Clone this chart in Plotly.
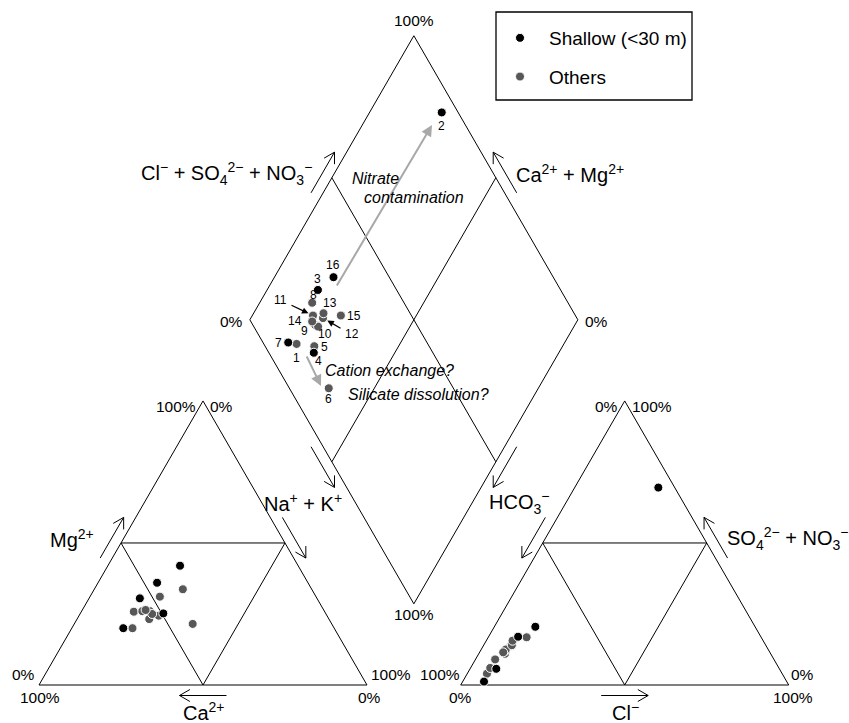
import math
import plotly.graph_objects as go

# ---------------- data ----------------
sample_ids = [str(i) for i in range(1, 17)]
is_shallow = [False, True, True, True, False, False, True, False,
              False, False, False, False, False, False, False, True]
# cations, % meq
ca_pct  = [61.5, 36.0, 54.0, 49.5, 51.3, 42.4, 64.3, 58.2, 53.2, 54.8, 55.5, 53.0, 47.6, 54.3, 39.3, 46.0]
mg_pct  = [20.0, 42.0, 30.5, 25.2, 24.4, 21.5, 20.0, 25.8, 26.0, 23.2, 26.0, 25.0, 31.1, 26.4, 33.7, 36.0]
nak_pct = [18.5, 22.0, 15.5, 25.3, 24.3, 36.1, 15.7, 16.0, 20.8, 22.0, 18.5, 22.0, 21.3, 19.3, 27.0, 18.0]
# anions, % meq
hco3_pct   = [90.0, 5.0, 74.0, 86.3, 85.0, 88.0, 92.3, 78.0, 81.0, 80.4, 80.0, 77.4, 76.4, 81.3, 71.5, 67.0]
cl_pct     = [6.0, 25.5, 9.0, 8.0, 6.0, 6.0, 6.5, 8.3, 8.0, 7.6, 7.5, 8.6, 8.0, 7.2, 11.7, 12.5]
so4no3_pct = [4.0, 69.5, 17.0, 5.7, 9.0, 6.0, 1.2, 13.7, 11.0, 12.0, 12.5, 14.0, 15.6, 11.5, 16.8, 20.5]

group_names = ["Shallow (<30 m)", "Others"]

# ---------------- geometry / style ----------------
FONT = "Liberation Sans, Arial, sans-serif"
W, HGT = 849, 723
SC = 328.0            # pixels per triangle side
PX0, PY0 = 39.0, 685.0
H = math.sqrt(3) / 2
GAP = 0.2857
OX = 1 + GAP
DB = (1 + GAP / 2, GAP / 2 * math.sqrt(3))
DL = (DB[0] - 0.5, DB[1] + H)
DR = (DB[0] + 0.5, DB[1] + H)
DT = (DB[0], DB[1] + 2 * H)
LA, LB, LC = (0.0, 0.0), (1.0, 0.0), (0.5, H)
RA, RB, RC = (OX, 0.0), (OX + 1, 0.0), (OX + 0.5, H)


def px(x, y):
    return ((x - PX0) / SC, (PY0 - y) / SC)


def mid(p, q, t=0.5):
    return (p[0] + (q[0] - p[0]) * t, p[1] + (q[1] - p[1]) * t)


def tri_point(left, right, top, ox):
    s = left + right + top
    r, t = right / s, top / s
    return ox + r + t / 2, t * H


def diamond_point(camg, clso4):
    a, c = camg, clso4
    return DB[0] + (c - a) / 2, DB[1] + (a + c) * H


# positions of all samples
cat_xy, an_xy, dia_xy = [], [], []
for i in range(len(sample_ids)):
    cat_xy.append(tri_point(ca_pct[i], nak_pct[i], mg_pct[i], 0.0))
    an_xy.append(tri_point(hco3_pct[i], cl_pct[i], so4no3_pct[i], OX))
    sc = ca_pct[i] + mg_pct[i] + nak_pct[i]
    sa = hco3_pct[i] + cl_pct[i] + so4no3_pct[i]
    dia_xy.append(diamond_point((ca_pct[i] + mg_pct[i]) / sc, (cl_pct[i] + so4no3_pct[i]) / sa))

# ---------------- frame lines ----------------
lx, ly = [], []


def seg(p, q):
    lx.extend([p[0], q[0], None])
    ly.extend([p[1], q[1], None])


for A, B, C in [(LA, LB, LC), (RA, RB, RC)]:
    seg(A, B); seg(B, C); seg(C, A)
    mAC, mBC, mAB = mid(A, C), mid(B, C), mid(A, B)
    seg(mAC, mBC); seg(mAC, mAB); seg(mBC, mAB)
seg(DB, DL); seg(DL, DT); seg(DT, DR); seg(DR, DB)
seg(mid(DB, DL), mid(DR, DT))
seg(mid(DB, DR), mid(DL, DT))

# open arrows parallel to edges
HEAD = 12 / SC
HALF = 0.0716
OFF = 10.5 / SC


def open_arrow(p0, p1):
    dx, dy = p1[0] - p0[0], p1[1] - p0[1]
    L = math.hypot(dx, dy)
    ux, uy = dx / L, dy / L
    seg(p0, p1)
    for ang in (math.radians(30), -math.radians(30)):
        bx = ux * math.cos(ang) - uy * math.sin(ang)
        by = ux * math.sin(ang) + uy * math.cos(ang)
        seg(p1, (p1[0] - HEAD * bx, p1[1] - HEAD * by))


def edge_arrow(e0, e1, outward):
    dx, dy = e1[0] - e0[0], e1[1] - e0[1]
    L = math.hypot(dx, dy)
    ux, uy = dx / L, dy / L
    nx, ny = -uy, ux
    if nx * outward[0] + ny * outward[1] < 0:
        nx, ny = -nx, -ny
    c = mid(e0, e1)
    p0 = (c[0] - ux * HALF * L + nx * OFF, c[1] - uy * HALF * L + ny * OFF)
    p1 = (c[0] + ux * HALF * L + nx * OFF, c[1] + uy * HALF * L + ny * OFF)
    open_arrow(p0, p1)


edge_arrow(LA, LC, (-1, 1))      # Mg
edge_arrow(LB, LA, (0, -1))      # Ca
edge_arrow(LC, LB, (1, 1))       # Na+K (triangle)
edge_arrow(DL, DB, (-1, -1))     # Na+K (diamond)
edge_arrow(DR, DB, (1, -1))      # HCO3 (diamond)
edge_arrow(RC, RA, (-1, 1))      # HCO3 (triangle)
edge_arrow(RB, RC, (1, 1))       # SO4+NO3
edge_arrow(RA, RB, (0, -1))      # Cl
edge_arrow(DL, DT, (-1, 1))      # Cl+SO4+NO3
edge_arrow(DR, DT, (1, 1))       # Ca+Mg

fig = go.Figure()
fig.add_trace(go.Scatter(x=lx, y=ly, mode="lines", line=dict(color="black", width=1),
                         hoverinfo="skip", showlegend=False))

# ---------------- points ----------------
colors = {True: "#000000", False: "#575757"}
for shallow, name, rank in [(False, group_names[1], 2), (True, group_names[0], 1)]:
    xs, ys = [], []
    for i in range(len(sample_ids)):
        if is_shallow[i] == shallow:
            for p in (cat_xy[i], an_xy[i], dia_xy[i]):
                xs.append(p[0]); ys.append(p[1])
    fig.add_trace(go.Scatter(
        x=xs, y=ys, mode="markers", name=name, legendrank=rank,
        legendgroup=name,
        marker=dict(color=colors[shallow], size=9, line=dict(color="white", width=1)),
        hoverinfo="skip"))

ann = []


def text(x, y, s, size, xa="center", ya="middle", xs=0, ys=0):
    ann.append(dict(x=x, y=y, text=s, showarrow=False, xanchor=xa, yanchor=ya,
                    xshift=xs, yshift=ys, font=dict(family=FONT, size=size, color="black")))


# sample labels (pixel offsets from their diamond points)
label_off = {"1": (0, -14), "2": (0, -14), "3": (0, 11), "4": (5, -8), "5": (10, -1),
             "6": (0, -11), "7": (-10, 0), "8": (1, 8), "9": (-11, -6), "10": (7, -7),
             "11": (-32, 16), "12": (29, -16), "13": (7, 10), "14": (-17, 0),
             "15": (13, 0), "16": (0, 12)}
for i, sid in enumerate(sample_ids):
    dx, dy = label_off[sid]
    text(dia_xy[i][0], dia_xy[i][1], sid, 12, xs=dx, ys=dy)

# small black pointer arrows for 11 and 12
for sid, tail in [("11", (-23, -11)), ("12", (19, 11))]:
    i = sample_ids.index(sid)
    ann.append(dict(x=dia_xy[i][0], y=dia_xy[i][1], ax=tail[0], ay=tail[1], text="",
                    showarrow=True, arrowhead=2, arrowsize=1, arrowwidth=1.3,
                    arrowcolor="black", standoff=5))

# grey process arrows
for (x0, y0), (x1, y1) in [((336, 287), (432, 125)), ((306, 355), (321, 386))]:
    a0, a1 = px(x0, y0), px(x1, y1)
    ann.append(dict(x=a1[0], y=a1[1], ax=a0[0], ay=a0[1], axref="x", ayref="y",
                    xref="x", yref="y", text="", showarrow=True, arrowhead=2,
                    arrowsize=1.1, arrowwidth=2, arrowcolor="#a8a8a8"))

# italic notes
for (x, y), s in [((350, 178), "Nitrate"), ((362, 197), "contamination"),
                  ((323, 370), "Cation exchange?"), ((346, 394), "Silicate dissolution?")]:
    p = px(x, y)
    text(p[0], p[1], "<i>%s</i>" % s, 16, xa="left")

# percent labels at corners
PF = 15.5
text(*LA, "0%", PF, xa="right", xs=-2, ys=11)
text(*LA, "100%", PF, xs=1, ys=-12)
text(*LB, "100%", PF, xa="left", xs=2, ys=11)
text(*LB, "0%", PF, xs=2, ys=-12)
text(*LC, "100%", PF, xa="right", xs=-5, ys=-6)
text(*LC, "0%", PF, xa="left", xs=5, ys=-6)
text(*RA, "100%", PF, xa="right", xs=1, ys=11)
text(*RA, "0%", PF, xs=0, ys=-12)
text(*RB, "0%", PF, xa="left", xs=0, ys=11)
text(*RB, "100%", PF, xs=4, ys=-12)
text(*RC, "0%", PF, xa="right", xs=-5, ys=-6)
text(*RC, "100%", PF, xa="left", xs=5, ys=-6)
text(*DT, "100%", PF, ys=15)
text(*DL, "0%", PF, xa="right", xs=-5, ys=-2)
text(*DR, "0%", PF, xa="left", xs=5, ys=-2)
text(*DB, "100%", PF, ys=-11)

# axis names
AF = 20
for (x, y), s, xa in [
    ((96, 538), "Mg<sup>2+</sup>", "right"),
    ((204, 711), "Ca<sup>2+</sup>", "center"),
    ((303, 502), "Na<sup>+</sup> + K<sup>+</sup>", "center"),
    ((519, 502), "HCO<sub>3</sub><sup>−</sup>", "center"),
    ((725, 538), "SO<sub>4</sub><sup>2−</sup> + NO<sub>3</sub><sup>−</sup>", "left"),
    ((625, 711), "Cl<sup>−</sup>", "center"),
    ((314, 173), "Cl<sup>−</sup> + SO<sub>4</sub><sup>2−</sup> + NO<sub>3</sub><sup>−</sup>", "right"),
    ((514, 173), "Ca<sup>2+</sup> + Mg<sup>2+</sup>", "left"),
]:
    p = px(x, y)
    text(p[0], p[1], s, AF, xa=xa)

fig.update_layout(
    width=W, height=HGT, margin=dict(l=0, r=0, t=0, b=0, pad=0),
    paper_bgcolor="white", plot_bgcolor="white",
    annotations=ann,
    shapes=[dict(type="rect", xref="paper", yref="paper",
                 x0=496 / W, x1=692 / W, y0=1 - 100 / HGT, y1=1 - 12 / HGT,
                 line=dict(color="black", width=1.3), fillcolor="rgba(0,0,0,0)")],
    legend=dict(x=491 / W, y=1 - 19 / HGT, xanchor="left", yanchor="top",
                bgcolor="rgba(0,0,0,0)", borderwidth=0, itemwidth=48,
                tracegroupgap=11, font=dict(family=FONT, size=19, color="black")),
    xaxis=dict(visible=False, range=[-PX0 / SC, (W - PX0) / SC], fixedrange=True),
    yaxis=dict(visible=False, range=[-(HGT - PY0) / SC, PY0 / SC], fixedrange=True),
    hovermode=False,
)
fig.write_html("out.html", config={"displayModeBar": False},
               post_script="document.body.style.margin='0px';document.body.style.overflow='hidden';")
